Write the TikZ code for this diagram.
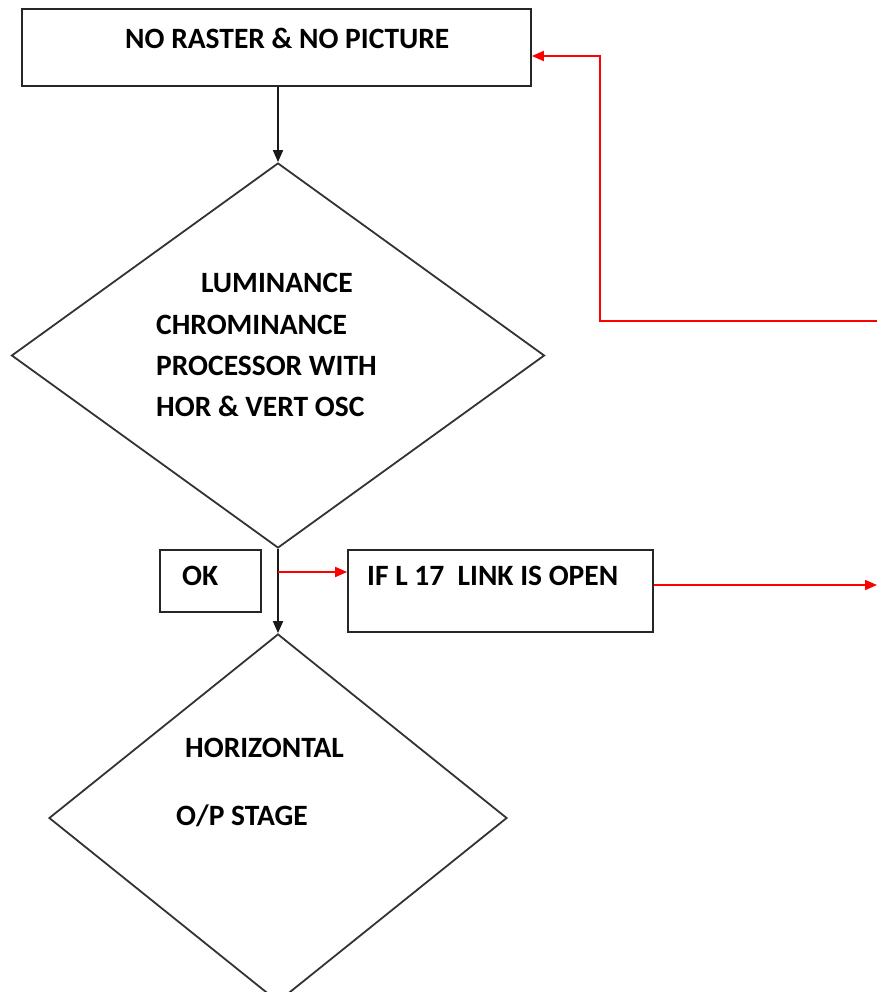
\documentclass[tikz,border=0pt]{standalone}
\usepackage{fontspec}
\setmainfont{Carlito}
\usetikzlibrary{shapes.geometric,arrows.meta}
\begin{document}
\begin{tikzpicture}[x=1pt,y=-1pt,
  box/.style={draw=black!85,line width=1.8pt,rectangle,inner sep=0pt},
  decision/.style={draw=black!80,line width=1.8pt,diamond,inner sep=0pt},
  label/.style={anchor=base west,inner sep=0pt,font=\fontsize{29.5}{30}\selectfont\bfseries},
  flow/.style={draw=black!90,line width=1.8pt,-{Triangle[length=12pt,width=10pt]}},
  redflow/.style={draw=red,line width=1.8pt,-{Triangle[length=12pt,width=10pt]}}]
\useasboundingbox (0,0) rectangle (877,992);
\clip (0,0) rectangle (877,992);

% boxes
\node[box,minimum width=509pt,minimum height=77pt] (top) at (276.5,47.5) {};
\node[box,minimum width=101pt,minimum height=62pt] (ok) at (210.5,581) {};
\node[box,minimum width=305pt,minimum height=82pt] (link) at (500.5,591) {};

% decisions
\node[decision,minimum width=533pt,minimum height=385pt] (lum) at (278,355.5) {};
\node[decision,minimum width=458pt,minimum height=368pt] (hor) at (278,818) {};

% texts
\node[label] (t1) at (125,49) {NO RASTER \& NO PICTURE};
\node[label] (t2) at (201,292) {LUMINANCE};
\node[label] (t3) at (156,334) {CHROMINANCE};
\node[label] (t4) at (156,375) {PROCESSOR WITH};
\node[label] (t5) at (156,416) {HOR \& VERT OSC};
\node[label] (t6) at (182,585) {OK};
\node[label] (t7) at (367,585) {IF L 17\ \ LINK IS OPEN};
\node[label] (t8) at (185,757) {HORIZONTAL};
\node[label] (t9) at (176,825) {O/P STAGE};

% free ends of the red connectors
\coordinate (tap) at (278,572);
\coordinate (exit) at (877,585);
\coordinate (back) at (877,321);
\coordinate (bend) at (600,321);

% connectors
\draw[flow] (top.south -| lum.north) -- (lum.north);
\draw[flow] (lum.south) -- (hor.north);
\draw[redflow] (tap) -- (link.west |- tap);
\draw[redflow] ([yshift=6pt]link.east) -- (exit);
\draw[redflow] (back) -- (bend) |- ([yshift=-8.5pt]top.east);
\end{tikzpicture}
\end{document}
